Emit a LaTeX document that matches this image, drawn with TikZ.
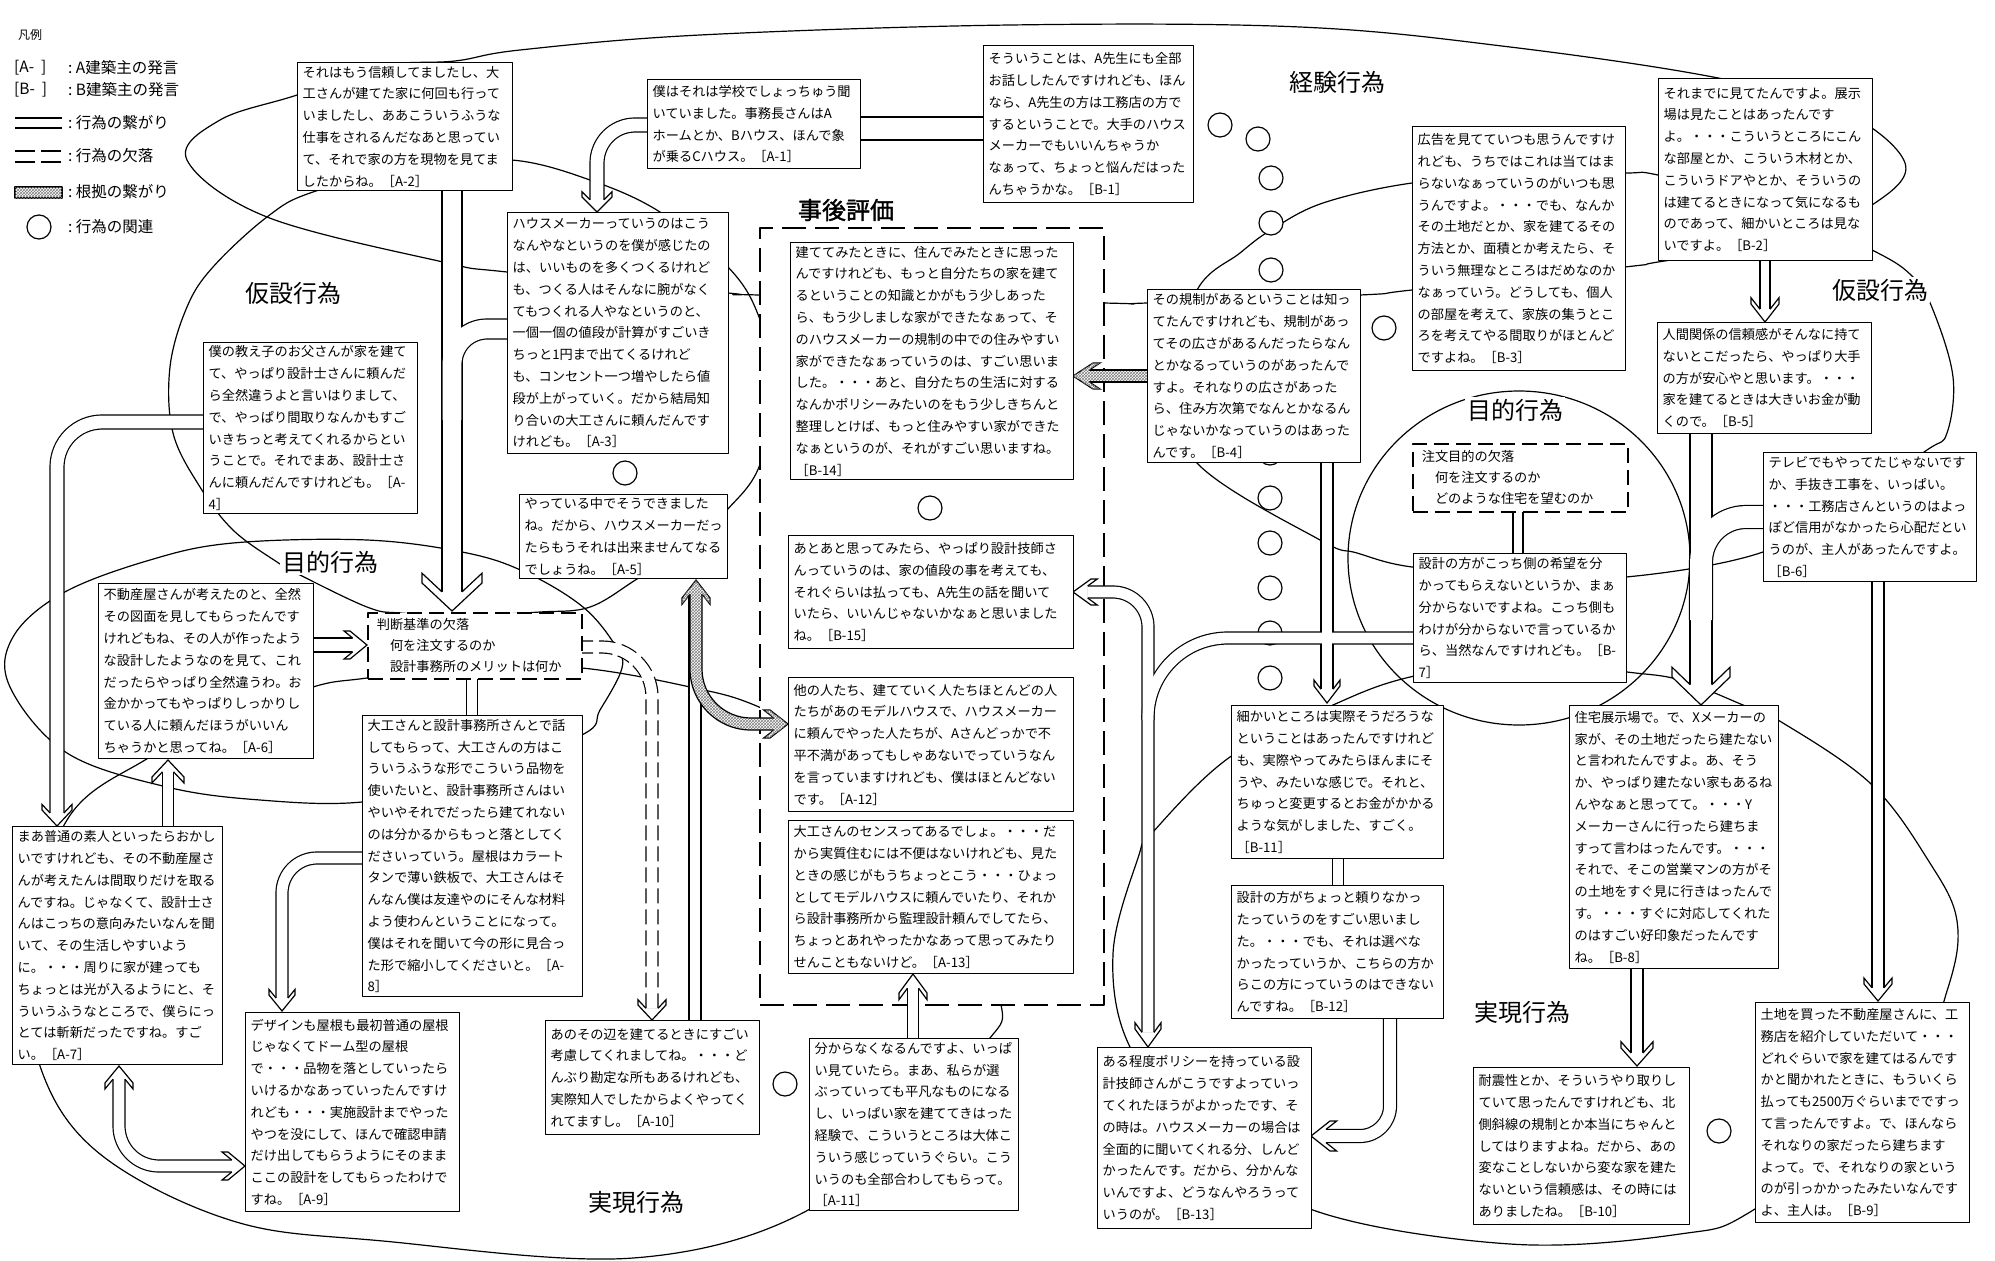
\documentclass[tikz,border=0pt]{standalone}
\usepackage{fontspec}
\usetikzlibrary{patterns}
\newfontfamily\jp{Noto Sans CJK JP}
\newfontfamily\jpb{Noto Sans CJK JP}[FakeBold=1.5]
\tikzset{
 tb/.style={draw, line width=1.3pt, fill=white, inner xsep=5pt, inner ysep=3pt, align=left, anchor=north west, font=\jp\fontsize{13.2}{21.8}\selectfont},
 db/.style={draw, line width=1.6pt, dash pattern=on 15pt off 7pt, fill=white, inner xsep=9pt, inner ysep=3pt, align=left, anchor=north west, font=\jp\fontsize{13.2}{21}\selectfont},
 lab/.style={font=\jp\fontsize{24}{28}\selectfont, inner sep=2pt},
 legf/.style={font=\jp\fontsize{15.5}{18}\selectfont, inner sep=0pt, anchor=west},
 rel/.style={circle, draw, line width=1.2pt, fill=white, minimum size=24pt, inner sep=0pt},
 thinl/.style={line width=1.2pt},
 hatch/.style={fill=white, postaction={pattern=crosshatch, pattern color=black!50}},
}
\newcommand\tbox[6]{\node[tb, minimum width=#4pt-#2pt, minimum height=#5pt-#3pt, text width=#4pt-#2pt-10pt] (#1) at (#2,#3) {#6};}
\newcommand\dbox[6]{\node[db, minimum width=#4pt-#2pt, minimum height=#5pt-#3pt, text width=#4pt-#2pt-18pt] (#1) at (#2,#3) {#6};}
\newcommand\ahd[7][fill=white]{%
 \draw[line width=1.2pt, #1, line join=miter, shift={(#2,#3)}, rotate=#4]
  ({-(0.35*#7+#5*#7/#6)},#5) -- ({-1.35*#7},#6) -- ({-#7},#6) -- (0,0) -- ({-#7},{-#6}) -- ({-1.35*#7},{-#6}) -- ({-(0.35*#7+#5*#7/#6)},{-#5});}
\begin{document}
\begin{tikzpicture}[x=1pt,y=-1pt, line join=round]
\useasboundingbox (0,0) rectangle (1995,1261);
\fill[white] (0,0) rectangle (1995,1261);

% ---------- region outlines ----------
\begin{scope}[thinl]
\draw plot[smooth cycle, tension=0.6] coordinates {(297,95) (380,66) (455,61) (520,50) (700,35) (1010,25) (1300,27) (1510,47) (1713,77) (1840,110) (1905,163) (1872,205) (1790,240) (1658,262) (1625,267) (1412,290) (1360,295) (1147,303) (1103,303) (759,295) (728,293) (507,272) (443,262) (267,217) (187,160) (220,120)};
\draw plot[smooth cycle, tension=0.6] coordinates {(313,192) (267,217) (213,267) (187,307) (170,367) (173,433) (200,487) (233,530) (277,562) (300,575) (367,607) (400,613) (470,615) (540,612) (590,607) (637,579) (690,545) (727,510) (759,467) (775,390) (759,317) (728,267) (660,212) (590,180) (512,160) (420,165)};
\draw plot[smooth cycle, tension=0.6] coordinates {(13,637) (63,593) (150,560) (233,543) (367,540) (467,553) (527,573) (583,607) (615,645) (622,668) (600,710) (582,735) (470,780) (362,802) (260,800) (167,787) (67,753) (10,687)};
\draw plot[smooth cycle, tension=0.6] coordinates {(40,1066) (100,1154) (233,1221) (383,1241) (633,1258) (810,1209) (920,1100) (990,1038) (1000,1000) (960,900) (860,760) (759,707) (690,687) (582,668) (470,665) (367,678) (313,687) (230,720) (145,760) (67,820) (30,950)};
\draw plot[smooth cycle, tension=0.6] coordinates {(1130,1047) (1113,954) (1138,858) (1153,832) (1230,757) (1333,705) (1410,677) (1520,660) (1627,672) (1680,680) (1743,705) (1778,720) (1870,783) (1928,860) (1957,921) (1947,991) (1900,1100) (1755,1209) (1680,1234) (1510,1244) (1310,1209) (1200,1130)};
\draw plot[smooth cycle, tension=0.6] coordinates {(1197,290) (1240,253) (1271,230) (1323,203) (1412,183) (1520,175) (1625,173) (1658,175) (1760,200) (1872,250) (1913,277) (1933,310) (1953,377) (1947,433) (1927,450) (1850,500) (1763,552) (1626,577) (1520,575) (1412,567) (1357,553) (1320,540) (1197,463) (1170,380)};
\draw (1519,558) ellipse [x radius=171, y radius=167];
\end{scope}

% ---------- 事後評価 frame ----------
\node[draw, line width=1.8pt, dash pattern=on 24pt off 9pt, fill=white, minimum width=344pt, minimum height=777pt, anchor=north west, inner sep=0pt] (jigo) at (759,227) {};

% ---------- relation circles ----------
\foreach \n/\p in {c1/{(625,473)}, c2/{(930,508)}, c3/{(785,1084)}, c4/{(1220,125)}, c5/{(1258,139)}, c6/{(1271,178)}, c7/{(1271,223)}, c8/{(1271,270)}, c9/{(1384,328)}, c10/{(1270,453)}, c11/{(1270,498)}, c12/{(1270,543)}, c13/{(1270,588)}, c14/{(1270,633)}, c15/{(1270,678)}, c16/{(1719,1131)}}
  \node[rel] (\n) at \p {};

% ---------- double-line connectors ----------
\def\plainpaths{%
 \dpath{10}{(452,185) -- (452,592)}%
 \dpath{10}{(512,329) [rounded corners=35pt] -| (452,420)}%
 \dpath{7}{(652,125) [rounded corners=38pt] -| (597,200)}%
 \dpath{7}{(208,422) [rounded corners=45pt] -| (57,813)}%
 \dpath{7}{(310,645) -- (352.5,645)}%
 \dpath{5.5}{(168,829) -- (168,771.8)}%
 \dpath{6}{(365,858) [rounded corners=35pt] -| (282,998)}%
 \dpath{6}{(119,1079.2) [rounded corners=40pt] |- (231.8,1166)}%
 \dpath{6}{(695,590) -- (695,1023)}%
 \dpath{5.5}{(913,1041) -- (913,988.1)}%
 \dpath{11.5}{(858,128.5) -- (985,128.5)}%
 \dpath{6}{(1327,460) -- (1327,689.2)}%
 \dpath{6}{(1416,638) [rounded corners=80pt] -| (1148,1032.4)}%
 \dpath{6}{(1148,720) [rounded corners=35pt] |- (1087.6,592)}%
 \dpath{5.5}{(1338,855) -- (1338,888)}%
 \dpath{6.5}{(1390,1015) [rounded corners=30pt] |- (1325.9,1136)}%
 \dpath{5}{(1765,258) -- (1765,309.3)}%
 \dpath{11}{(1701,431) -- (1701,684.6)}%
 \dpath{11.5}{(1766,517) [rounded corners=45pt] -| (1701,620)}%
 \dpath{6}{(1878,579) -- (1878,987.8)}%
 \dpath{6}{(1637,966) -- (1637,1053)}%
 \dpath{5}{(1518,509) -- (1518,556)}%
 \dpath{5.5}{(472,676) -- (472,718)}%
}
{\def\dpath#1#2{\draw[line width=2*#1pt+1.2pt] #2;}\plainpaths}
{\def\dpath#1#2{\draw[white, line width=2*#1pt-1.2pt] #2;}\plainpaths}

% dashed double (行為の欠落)
\draw[line width=13.2pt, dash pattern=on 15pt off 6pt] (578,647) [rounded corners=50pt] -| (652,1008.3);
\draw[white, line width=10.8pt] (578,647) [rounded corners=50pt] -| (652,1008.3);

% hatched (根拠の繋がり)
\fill[hatch] (1089.2,370) rectangle (1150,382);
\draw[line width=1.2pt] (1089.2,370) -- (1150,370) (1089.2,382) -- (1150,382);
\fill[hatch] (690,594) -- (690,669) arc[start angle=180, end angle=90, radius=61] -- (774,730) -- (774,718) -- (751,718) arc[start angle=90, end angle=180, radius=49] -- (702,594) -- cycle;
\draw[line width=1.2pt] (690,594) -- (690,669) arc[start angle=180, end angle=90, radius=61] -- (774,730);
\draw[line width=1.2pt] (702,594) -- (702,669) arc[start angle=180, end angle=90, radius=49] -- (774,718);

% arrow heads
\ahd{452}{611}{-90}{10}{30}{28}
\ahd{597}{212}{-90}{7}{15}{15}
\ahd{57}{826}{-90}{7}{15}{16}
\ahd{367}{645}{0}{7}{14}{17}
\ahd{168}{760}{90}{5.5}{16}{17}
\ahd{282}{1011}{-90}{6}{13}{16}
\ahd{119}{1066}{90}{6}{14}{17}
\ahd{245}{1166}{0}{6}{14}{17}
\ahd{913}{974}{90}{5.5}{14}{19}
\ahd{1327}{703}{-90}{6}{13}{17}
\ahd{1148}{1047}{-90}{6}{13}{18}
\ahd{1073}{592}{180}{6}{13}{18}
\ahd{1311}{1136}{180}{6.5}{15}{19}
\ahd{1765}{322}{-90}{5}{14}{18}
\ahd{1701}{705}{-90}{11}{29}{28}
\ahd{1878}{1001}{-90}{6}{14}{17}
\ahd{1637}{1066}{-90}{6}{16}{18}
\ahd{652}{1020}{-90}{6}{14}{15}
\ahd[hatch]{1073}{376}{180}{6}{13}{20}
\ahd[hatch]{696}{580}{90}{6}{14}{18}
\ahd[hatch]{788}{724}{0}{6}{14}{18}

% ---------- statement boxes ----------
\tbox{a2}{297}{62}{512}{190}{それはもう信頼してましたし、大\\工さんが建てた家に何回も行って\\いましたし、ああこういうふうな\\仕事をされるんだなあと思ってい\\て、それで家の方を現物を見てま\\したからね。［A-2］}
\tbox{a1}{647}{79}{860}{168}{僕はそれは学校でしょっちゅう聞\\いていました。事務長さんはA\\ホームとか、Bハウス、ほんで象\\が乗るCハウス。［A-1］}
\tbox{b1}{983}{45}{1193}{202}{そういうことは、A先生にも全部\\お話ししたんですけれども、ほん\\なら、A先生の方は工務店の方で\\するということで。大手のハウス\\メーカーでもいいんちゃうか\\なぁって、ちょっと悩んだはった\\んちゃうかな。［B-1］}
\tbox{a3}{507}{212}{728}{453}{ハウスメーカーっていうのはこう\\なんやなというのを僕が感じたの\\は、いいものを多くつくるけれど\\も、つくる人はそんなに腕がなく\\てもつくれる人やなというのと、\\一個一個の値段が計算がすごいき\\ちっと1円まで出てくるけれど\\も、コンセント一つ増やしたら値\\段が上がっていく。だから結局知\\り合いの大工さんに頼んだんです\\けれども。［A-3］}
\tbox{b14}{790}{242}{1073}{479}{建ててみたときに、住んでみたときに思った\\んですけれども、もっと自分たちの家を建て\\るということの知識とかがもう少しあった\\ら、もう少しましな家ができたなぁって、そ\\のハウスメーカーの規制の中での住みやすい\\家ができたなぁっていうのは、すごい思いま\\した。・・・あと、自分たちの生活に対する\\なんかポリシーみたいのをもう少しきちんと\\整理しとけば、もっと住みやすい家ができた\\なぁというのが、それがすごい思いますね。\\［B-14］}
\tbox{b15}{788}{535}{1073}{648}{あとあと思ってみたら、やっぱり設計技師さ\\んっていうのは、家の値段の事を考えても、\\それぐらいは払っても、A先生の話を聞いて\\いたら、いいんじゃないかなぁと思いました\\ね。［B-15］}
\tbox{a12}{788}{677}{1073}{811}{他の人たち、建てていく人たちほとんどの人\\たちがあのモデルハウスで、ハウスメーカー\\に頼んでやった人たちが、Aさんどっかで不\\平不満があってもしゃあないでっていうなん\\を言っていますけれども、僕はほとんどない\\です。［A-12］}
\tbox{a13}{788}{820}{1073}{973}{大工さんのセンスってあるでしょ。・・・だ\\から実質住むには不便はないけれども、見た\\ときの感じがもうちょっとこう・・・ひょっ\\としてモデルハウスに頼んでいたり、それか\\ら設計事務所から監理設計頼んでしてたら、\\ちょっとあれやったかなあって思ってみたり\\せんこともないけど。［A-13］}
\tbox{a11}{809}{1038}{1018}{1210}{分からなくなるんですよ、いっぱ\\い見ていたら。まあ、私らが選\\ぶっていっても平凡なものになる\\し、いっぱい家を建ててきはった\\経験で、こういうところは大体こ\\ういう感じっていうぐらい。こう\\いうのも全部合わしてもらって。\\［A-11］}
\tbox{a10}{545}{1020}{759}{1134}{あのその辺を建てるときにすごい\\考慮してくれましてね。・・・ど\\んぶり勘定な所もあるけれども、\\実際知人でしたからよくやってく\\れてますし。［A-10］}
\tbox{a5}{519}{494}{727}{577}{やっている中でそうできました\\ね。だから、ハウスメーカーだっ\\たらもうそれは出来ませんてなる\\でしょうね。［A-5］}
\tbox{a4}{203}{342}{417}{511}{僕の教え子のお父さんが家を建て\\て、やっぱり設計士さんに頼んだ\\ら全然違うよと言いはりまして、\\で、やっぱり間取りなんかもすご\\いきちっと考えてくれるからとい\\うことで。それでまあ、設計士さ\\んに頼んだんですけれども。［A-\\4］}
\tbox{a6}{98}{583}{313}{758}{不動産屋さんが考えたのと、全然\\その図面を見してもらったんです\\けれどもね、その人が作ったよう\\な設計したようなのを見て、これ\\だったらやっぱり全然違うわ。お\\金かかってもやっぱりしっかりし\\ている人に頼んだほうがいいん\\ちゃうかと思ってね。［A-6］}
\dbox{kijun}{367}{612}{581}{678}{判断基準の欠落\\　何を注文するのか\\　設計事務所のメリットは何か}
\tbox{a8}{362}{715}{582}{996}{大工さんと設計事務所さんとで話\\してもらって、大工さんの方はこ\\ういうふうな形でこういう品物を\\使いたいと、設計事務所さんはい\\やいやそれでだったら建てれない\\のは分かるからもっと落としてく\\ださいっていう。屋根はカラート\\タンで薄い鉄板で、大工さんはそ\\んなん僕は友達やのにそんな材料\\よう使わんということになって。\\僕はそれを聞いて今の形に見合っ\\た形で縮小してくださいと。［A-\\8］}
\tbox{a7}{12}{826}{222}{1064}{まあ普通の素人といったらおかし\\いですけれども、その不動産屋さ\\んが考えたんは間取りだけを取る\\んですね。じゃなくて、設計士さ\\んはこっちの意向みたいなんを聞\\いて、その生活しやすいよう\\に。・・・周りに家が建っても\\ちょっとは光が入るようにと、そ\\ういうふうなところで、僕らにっ\\とては斬新だったですね。すご\\い。［A-7］}
\tbox{a9}{245}{1012}{459}{1211}{デザインも屋根も最初普通の屋根\\じゃなくてドーム型の屋根\\で・・・品物を落としていったら\\いけるかなあっていったんですけ\\れども・・・実施設計までやった\\やつを没にして、ほんで確認申請\\だけ出してもらうようにそのまま\\ここの設計をしてもらったわけで\\すね。［A-9］}
\tbox{b4}{1147}{289}{1360}{462}{その規制があるということは知っ\\てたんですけれども、規制があっ\\てその広さがあるんだったらなん\\とかなるっていうのがあったんで\\すよ。それなりの広さがあった\\ら、住み方次第でなんとかなるん\\じゃないかなっていうのはあった\\んです。［B-4］}
\tbox{b3}{1412}{126}{1625}{370}{広告を見てていつも思うんですけ\\れども、うちではこれは当てはま\\らないなぁっていうのがいつも思\\うんですよ。・・・でも、なんか\\その土地だとか、家を建てるその\\方法とか、面積とか考えたら、そ\\ういう無理なところはだめなのか\\なぁっていう。どうしても、個人\\の部屋を考えて、家族の集うとこ\\ろを考えてやる間取りがほとんど\\ですよね。［B-3］}
\tbox{b2}{1658}{78}{1872}{260}{それまでに見てたんですよ。展示\\場は見たことはあったんです\\よ。・・・こういうところにこん\\な部屋とか、こういう木材とか、\\こういうドアやとか、そういうの\\は建てるときになって気になるも\\のであって、細かいところは見な\\いですよ。［B-2］}
\tbox{b5}{1657}{322}{1871}{433}{人間関係の信頼感がそんなに持て\\ないとこだったら、やっぱり大手\\の方が安心やと思います。・・・\\家を建てるときは大きいお金が動\\くので。［B-5］}
\tbox{b6}{1763}{452}{1976}{581}{テレビでもやってたじゃないです\\か、手抜き工事を、いっぱい。\\・・・工務店さんというのはよっ\\ぽど信用がなかったら心配だとい\\うのが、主人があったんですよ。\\［B-6］}
\dbox{mokuteki}{1412}{443}{1627}{511}{注文目的の欠落\\　何を注文するのか\\　どのような住宅を望むのか}
\tbox{b7}{1413}{553}{1626}{682}{設計の方がこっち側の希望を分\\かってもらえないというか、まぁ\\分からないですよね。こっち側も\\わけが分からないで言っているか\\ら、当然なんですけれども。［B-\\7］}
\tbox{b11}{1231}{705}{1443}{858}{細かいところは実際そうだろうな\\ということはあったんですけれど\\も、実際やってみたらほんまにそ\\うや、みたいな感じで。それと、\\ちゅっと変更するとお金がかかる\\ような気がしました、すごく。\\［B-11］}
\tbox{b12}{1231}{885}{1443}{1018}{設計の方がちょっと頼りなかっ\\たっていうのをすごい思いまし\\た。・・・でも、それは選べな\\かったっていうか、こちらの方か\\らこの方にっていうのはできない\\んですね。［B-12］}
\tbox{b13}{1097}{1047}{1311}{1228}{ある程度ポリシーを持っている設\\計技師さんがこうですよっていっ\\てくれたほうがよかったです、そ\\の時は。ハウスメーカーの場合は\\全面的に聞いてくれる分、しんど\\かったんです。だから、分かんな\\いんですよ、どうなんやろうって\\いうのが。［B-13］}
\tbox{b8}{1569}{705}{1778}{968}{住宅展示場で。で、Xメーカーの\\家が、その土地だったら建たない\\と言われたんですよ。あ、そう\\か、やっぱり建たない家もあるね\\んやなぁと思ってて。・・・Y\\メーカーさんに行ったら建ちま\\すって言わはったんです。・・・\\それで、そこの営業マンの方がそ\\の土地をすぐ見に行きはったんで\\す。・・・すぐに対応してくれた\\のはすごい好印象だったんです\\ね。［B-8］}
\tbox{b10}{1473}{1067}{1689}{1224}{耐震性とか、そういうやり取りし\\ていて思ったんですけれども、北\\側斜線の規制とか本当にちゃんと\\してはりますよね。だから、あの\\変なことしないから変な家を建た\\ないという信頼感は、その時には\\ありましたね。［B-10］}
\tbox{b9}{1755}{1002}{1969}{1222}{土地を買った不動産屋さんに、工\\務店を紹介していただいて・・・\\どれぐらいで家を建てはるんです\\かと聞かれたときに、もういくら\\払っても2500万ぐらいまでですっ\\て言ったんですよ。で、ほんなら\\それなりの家だったら建ちます\\よって。で、それなりの家という\\のが引っかかったみたいなんです\\よ、主人は。［B-9］}

% ---------- region labels ----------
\node[lab] (l1) at (1337,82) {経験行為};
\node[lab] (l2) at (293,293) {仮設行為};
\node[lab, fill=white] (l3) at (1880,290) {仮設行為};
\node[lab, fill=white] (l4) at (330,562) {目的行為};
\node[lab, fill=white] (l5) at (1515,410) {目的行為};
\node[lab, font=\jpb\fontsize{24}{28}\selectfont] (l6) at (846,210) {事後評価};
\node[lab] (l7) at (636,1202) {実現行為};
\node[lab] (l8) at (1522,1012) {実現行為};

% ---------- legend ----------
\node[legf, font=\jp\fontsize{12}{14}\selectfont] (lg0) at (18,35) {凡例};
\node[legf] (lg1) at (14,68) {[A-\ \ ]};
\node[legf] (lg1t) at (68,68) {:\ A建築主の発言};
\node[legf] (lg2) at (14,90) {[B-\ \ ]};
\node[legf] (lg2t) at (68,90) {:\ B建築主の発言};
\coordinate (ls1) at (15,118); \coordinate (le1) at (62,118);
\coordinate (ls2) at (15,128); \coordinate (le2) at (62,128);
\draw[line width=1.2pt] (ls1) -- (le1) (ls2) -- (le2);
\node[legf] (lg3) at (68,123) {:\ 行為の繋がり};
\coordinate (ls3) at (15,151); \coordinate (le3) at (62,151);
\coordinate (ls4) at (15,162); \coordinate (le4) at (62,162);
\draw[line width=1.2pt, dash pattern=on 20pt off 6pt] (ls3) -- (le3) (ls4) -- (le4);
\node[legf] (lg4) at (68,156) {:\ 行為の欠落};
\draw[line width=1.2pt, hatch] (15,187) rectangle (62,198);
\node[legf] (lg5) at (68,192) {:\ 根拠の繋がり};
\node[rel] (lgc) at (39,227) {};
\node[legf] (lg6) at (68,227) {:\ 行為の関連};
\end{tikzpicture}
\end{document}
